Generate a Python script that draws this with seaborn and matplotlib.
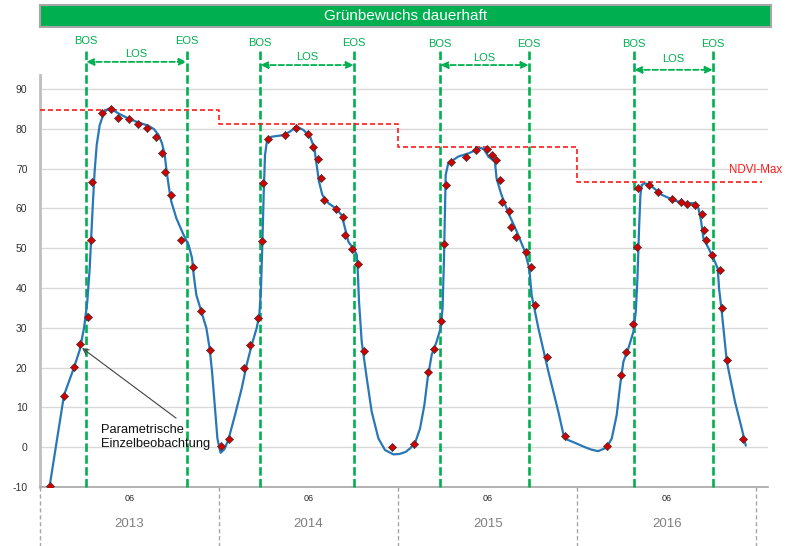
import matplotlib
matplotlib.use('Agg')
import matplotlib.pyplot as plt
import matplotlib.patches as mpatches
import pandas as pd
import seaborn as sns

# x unit: months since Jan 2013
years = ['2013', '2014', '2015', '2016']

# single observations (red diamonds)
obs_month = [0.65, 1.61, 2.28, 2.66, 3.22, 3.44, 3.51, 4.18, 4.74, 5.25, 5.99, 6.57, 7.17, 7.75, 8.18, 8.38, 8.76, 9.43, 10.23, 10.81, 11.37, 12.13,
             12.67, 13.69, 14.08, 14.59, 14.88, 14.95, 15.26, 16.42, 17.14, 17.98, 18.32, 18.61, 18.83, 19.01, 19.84, 20.29, 20.46, 20.91, 21.29, 21.70, 23.57,
             25.09, 26.03, 26.39, 26.88, 27.10, 27.19, 27.53, 28.55, 29.22, 29.96, 30.29, 30.56, 30.81, 30.97, 31.45, 31.57, 31.92, 32.55, 32.89, 33.20, 34.00, 35.19,
             37.98, 38.94, 39.30, 39.76, 40.01, 40.10, 40.82, 41.44, 42.34, 42.96, 43.34, 43.90, 44.37, 44.52, 44.64, 45.06, 45.56, 45.69, 46.05, 47.10]
obs_ndvi = [-9.7, 12.9, 20.2, 25.9, 32.8, 52.1, 66.6, 84.0, 85.0, 82.8, 82.4, 81.1, 80.2, 77.9, 74.0, 69.2, 63.4, 52.0, 45.2, 34.2, 24.4, 0.3,
            2.0, 19.9, 25.6, 32.5, 51.8, 66.3, 77.4, 78.4, 80.1, 78.7, 75.4, 72.5, 67.6, 62.1, 59.9, 57.9, 53.3, 49.7, 45.9, 24.2, 0.0,
            0.9, 19.0, 24.7, 31.7, 51.1, 65.9, 71.7, 72.8, 74.6, 74.8, 73.3, 72.1, 67.1, 61.7, 59.4, 55.3, 52.7, 49.0, 45.2, 35.7, 22.7, 2.9,
            0.3, 18.2, 24.0, 31.0, 50.4, 65.0, 65.9, 64.0, 62.3, 61.5, 61.2, 60.9, 58.6, 54.5, 52.0, 48.2, 44.4, 34.9, 21.9, 2.1]

# fitted curve (blue)
fit_month = [0.65, 1.61, 2.28, 2.66, 2.95, 3.17, 3.33, 3.44, 3.55, 3.66, 3.80, 4.00, 4.29, 4.56, 4.78, 5.23, 5.90, 6.57, 7.24, 7.64,
             7.95, 8.18, 8.36, 8.49, 8.65, 8.80, 9.14, 9.58, 9.96, 10.19, 10.30, 10.48, 10.81, 11.15, 11.37, 11.53, 11.71, 11.89, 12.10,
             12.36, 12.62, 13.07, 13.52, 13.85, 14.19, 14.52, 14.70, 14.81, 14.90, 14.99, 15.08, 15.22, 15.53, 16.31, 16.76, 17.20, 17.65,
             18.10, 18.39, 18.54, 18.70, 18.92, 19.33, 19.82, 20.22, 20.44, 20.67, 21.07, 21.23, 21.29, 21.38, 21.56, 21.90, 22.23, 22.68,
             23.12, 23.68, 24.10, 24.50, 24.80, 25.13, 25.47, 25.76, 25.98, 26.25, 26.58, 26.85, 26.98, 27.07, 27.14, 27.19, 27.36, 28.03,
             28.71, 29.26, 29.55, 29.78, 30.05, 30.49, 30.60, 30.89, 31.39, 31.95, 32.50, 32.79, 32.95, 33.40, 34.07, 34.74, 35.14, 35.85,
             36.52, 36.95, 37.40, 37.98, 38.32, 38.65, 38.88, 39.10, 39.43, 39.77, 39.93, 40.04, 40.15, 40.24, 40.33, 40.55, 41.00, 41.67,
             42.56, 43.23, 43.90, 44.13, 44.31, 44.46, 44.80, 45.13, 45.42, 45.51, 45.69, 46.03, 46.58, 47.03, 47.30]
fit_ndvi = [-9.7, 13.1, 20.0, 24.4, 29.9, 36.6, 44.9, 53.3, 61.7, 69.2, 75.9, 80.9, 84.1, 85.0, 85.0, 83.9, 82.6, 81.6, 80.8, 79.9,
            78.4, 76.3, 73.4, 69.2, 65.0, 61.7, 57.5, 53.7, 50.8, 47.5, 43.3, 38.2, 34.1, 29.9, 24.8, 19.0, 10.6, 2.2, -1.4,
            -0.5, 1.8, 8.1, 14.8, 20.7, 25.7, 29.9, 33.2, 39.9, 50.8, 63.4, 73.4, 77.2, 78.0, 78.4, 79.3, 80.5, 79.7,
            78.0, 75.1, 70.9, 66.7, 63.4, 61.3, 60.0, 58.3, 55.0, 51.6, 49.5, 48.3, 44.9, 36.6, 26.5, 17.3, 8.9, 2.2,
            -0.7, -1.8, -1.7, -1.2, -0.3, 1.0, 4.7, 10.6, 17.3, 23.2, 26.5, 29.9, 34.9, 46.6, 59.2, 68.4, 71.3, 73.0,
            73.8, 74.7, 75.2, 74.7, 73.0, 71.7, 67.5, 63.8, 58.8, 54.2, 49.1, 44.9, 38.2, 29.9, 19.0, 8.9, 2.2, 1.1,
            0.0, -0.6, -1.0, -0.1, 2.2, 8.1, 15.6, 21.5, 24.8, 29.0, 34.1, 42.4, 55.0, 63.4, 65.9, 66.3, 65.5, 63.4,
            61.9, 61.3, 61.3, 60.0, 56.7, 52.5, 50.0, 47.5, 44.9, 39.9, 34.1, 21.5, 11.4, 4.7, 0.4]

# yearly NDVI maximum (red dashed steps)
ndvimax_month = [0, 12, 24, 36, 48.4]
ndvimax = [84.7, 81.2, 75.3, 66.6, 66.6]

# begin / end of season
bos = [3.08, 14.75, 26.81, 39.81]
eos = [9.85, 21.05, 32.77, 45.11]

green = '#00B050'
los_y = [96.8, 96.0, 96.0, 94.8]
los_txt_y = [98.8, 98.0, 97.8, 97.4]
lbl_y = [102.1, 101.6, 101.2, 101.2]

sns.set_style('white')
plt.rcParams['font.family'] = ['Liberation Sans', 'DejaVu Sans']
plt.rcParams['axes.unicode_minus'] = False

fig = plt.figure(figsize=(7.85, 5.46), dpi=100)
ax = fig.add_axes([40/785, 59/546, 728/785, 412/546])

pts = pd.DataFrame({'month': obs_month, 'ndvi': obs_ndvi})
fit = pd.DataFrame({'month': fit_month, 'ndvi': fit_ndvi})

for b, e, ly, ty, lb in zip(bos, eos, los_y, los_txt_y, lbl_y):
    for xv, name in ((b, 'BOS'), (e, 'EOS')):
        ax.axvline(xv, ymin=0, ymax=1.066, color=green, lw=1.9, ls=(0, (3.2, 1.3)),
                   clip_on=False, zorder=3)
        ax.text(xv, lb, name, color=green, fontsize=8, ha='center', va='center')
    ax.annotate('', xy=(e, ly), xytext=(b, ly), annotation_clip=False,
                arrowprops=dict(arrowstyle='<|-|>,head_length=0.45,head_width=0.2', color=green,
                                lw=1.3, ls=(0, (3, 1.5)), shrinkA=0, shrinkB=0))
    ax.text((b + e) / 2, ty, 'LOS', color=green, fontsize=8, ha='center', va='center')

sns.lineplot(x=ndvimax_month, y=ndvimax, drawstyle='steps-post', color='#FF1A1A',
             lw=1.2, ls=(0, (3, 1.8)), ax=ax, zorder=3)
sns.lineplot(data=fit, x='month', y='ndvi', sort=False, estimator=None,
             color='#2878B8', lw=1.6, ax=ax, zorder=4)
sns.scatterplot(data=pts, x='month', y='ndvi', marker='D', s=17, color='#D00000',
                edgecolor='#3A3A3A', linewidth=0.5, ax=ax, zorder=5)

ax.text(46.2, 69.6, 'NDVI-Max', color='#FF1A1A', fontsize=8.3, ha='left', va='center')

ax.annotate('', xy=(2.82, 24.9), xytext=(9.12, 7.3),
            arrowprops=dict(arrowstyle='->', color='#404040', lw=0.8, shrinkA=0, shrinkB=0))
ax.text(4.1, 2.6, 'Parametrische\nEinzelbeobachtung', fontsize=9.3, ha='left', va='center',
        linespacing=1.25, color='#111111')

ax.set_xlim(0, 48.79)
ax.set_ylim(-10, 93.5)
ax.set_yticks(range(-10, 91, 10))
ax.yaxis.grid(True, color='#D9D9D9', lw=1)
ax.set_axisbelow(True)
ax.set_xticks(range(0, 49))
ax.set_xticklabels([])
ax.tick_params(axis='x', length=4, color='#A6A6A6', width=0.8)
ax.tick_params(axis='y', length=5, color='#BFBFBF', labelsize=7.5, labelcolor='#333333', pad=4)
ax.set_xlabel('')
ax.set_ylabel('')
for sp in ('top', 'right'):
    ax.spines[sp].set_visible(False)
ax.spines['left'].set_color('#BFBFBF')
ax.spines['left'].set_linewidth(2)
ax.spines['bottom'].set_color('#A6A6A6')
ax.spines['bottom'].set_linewidth(1.2)

tr = ax.get_xaxis_transform()
for i, yr in enumerate(years):
    ax.text(12 * i + 6, -0.029, '06', transform=tr, fontsize=6.5, ha='center', va='center')
    ax.text(12 * i + 6, -0.090, yr, transform=tr, fontsize=9.5, color='#808080',
            ha='center', va='center')
for i in range(len(years) + 1):
    ax.plot([12 * i, 12 * i], [0, -0.145], transform=tr, color='#A6A6A6', lw=1,
            ls=(0, (3, 2)), clip_on=False)

# title bar
fig.patches.append(mpatches.Rectangle((40/785, 519/546), 731/785, 22/546, transform=fig.transFigure,
                                      facecolor=green, edgecolor='#A6A6A6', lw=1.5))
fig.text(405.5/785, 530/546, 'Grünbewuchs dauerhaft', color='white', fontsize=11,
         ha='center', va='center')

plt.savefig('out.png', dpi=100)
